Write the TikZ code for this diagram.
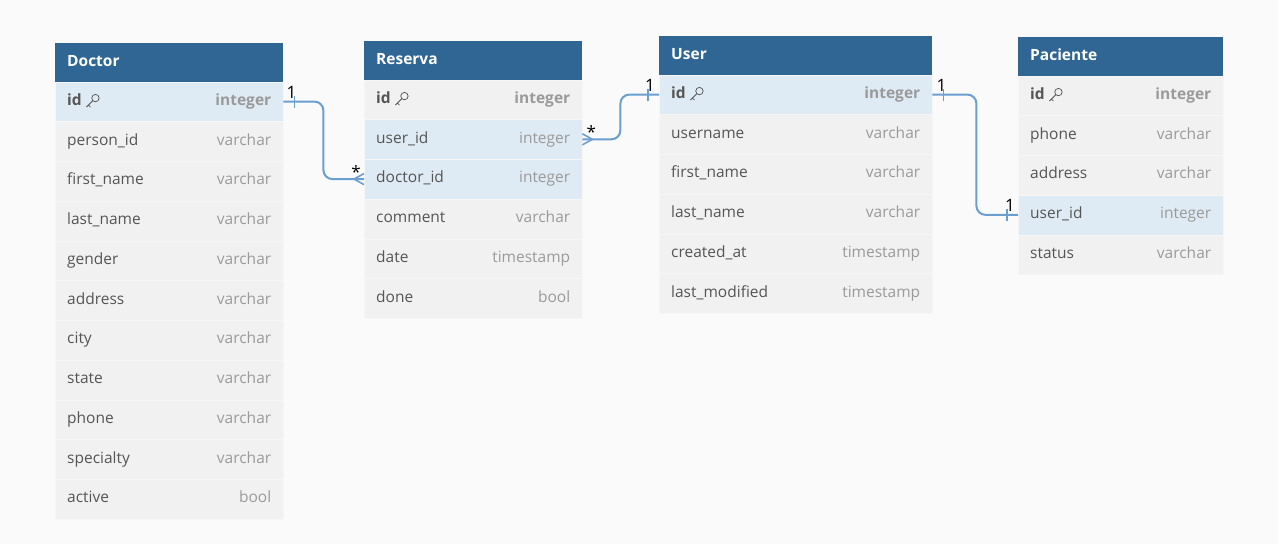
\documentclass[tikz,border=0pt]{standalone}
\usepackage{fontspec}
\setmainfont{Open Sans}
\usetikzlibrary{calc}
\definecolor{bg}{HTML}{FAFAFA}
\definecolor{hdr}{HTML}{2F6694}
\definecolor{hlrow}{HTML}{DFEBF4}
\definecolor{nmrow}{HTML}{F1F1F1}
\definecolor{sepc}{HTML}{F6F6F6}
\definecolor{fieldc}{HTML}{555555}
\definecolor{typec}{HTML}{9A9A9A}
\definecolor{connc}{HTML}{6A9FD0}
\tikzset{
  headbox/.style={fill=hdr,draw=none,minimum height=38.5,inner sep=0},
  headtxt/.style={text=white,font=\fontsize{15.5}{18}\selectfont\bfseries,inner sep=0,text height=11,text depth=3.5},
  rowbox/.style={draw=sepc,line width=0.4,minimum height=39.75,inner sep=0},
  hl/.style={fill=hlrow},
  nm/.style={fill=nmrow},
  fieldtxt/.style={text=fieldc,font=\fontsize{15.5}{18}\selectfont,inner sep=0,text height=11,text depth=3.5},
  typetxt/.style={text=typec,font=\fontsize{15.5}{18}\selectfont,inner sep=0,text height=11,text depth=3.5},
  keyst/.style={draw=fieldc,line width=0.75},
  conn/.style={draw=connc,line width=2,rounded corners=9},
  connmark/.style={draw=connc,line width=1.6},
  cardl/.style={text=black,font=\fontsize{17}{19}\selectfont,inner sep=0}
}
\newcommand\erhead[5]{%
  \node[headbox,minimum width=#4,anchor=north west] (#1) at (#2,#3) {};
  \node[headtxt,anchor=west] (#1-title) at ([xshift=12]#1.west) {#5};}
\newcommand\errow[7]{%
  \node[rowbox,#5,minimum width=#4,anchor=north west] (#1) at (#2,#3) {};
  \node[fieldtxt,anchor=west] (#1-f) at ([xshift=12]#1.west) {#6};
  \node[typetxt,anchor=east] (#1-t) at ([xshift=-12]#1.east) {#7};}
\newcommand\erkey[1]{%
  \coordinate (#1-kc) at ([xshift=13.5,yshift=3.5]#1-f.east);
  \draw[keyst] (#1-kc) circle[radius=3.7];
  \draw[keyst] ([xshift=-2.6,yshift=-2.6]#1-kc) -- ([xshift=-9,yshift=-9]#1-kc)
     ([xshift=-7,yshift=-7]#1-kc) -- ([xshift=-5,yshift=-9]#1-kc);}
\begin{document}
\begin{tikzpicture}[x=1pt,y=-1pt]
\useasboundingbox (0,0) rectangle (1278,544);
\fill[bg] (0,0) rectangle (1278,544);
% Doctor
\erhead{doctor}{55}{43}{228}{Doctor}
\errow{doctor-id}{55}{81.5}{228}{hl}{\bfseries id}{\bfseries integer}
\erkey{doctor-id}
\foreach \f/\t [count=\i] in {person\_id/varchar,first\_name/varchar,last\_name/varchar,gender/varchar,address/varchar,city/varchar,state/varchar,phone/varchar,specialty/varchar,active/bool}{
  \errow{doctor-r\i}{55}{81.5+39.75*\i}{228}{nm}{\f}{\t}
}
% Reserva
\erhead{reserva}{364}{41}{218}{Reserva}
\errow{reserva-id}{364}{79.5}{218}{nm}{\bfseries id}{\bfseries integer}
\erkey{reserva-id}
\errow{reserva-user_id}{364}{119.25}{218}{hl}{user\_id}{integer}
\errow{reserva-doctor_id}{364}{159}{218}{hl}{doctor\_id}{integer}
\foreach \f/\t [count=\i] in {comment/varchar,date/timestamp,done/bool}{
  \errow{reserva-r\i}{364}{159+39.75*\i}{218}{nm}{\f}{\t}
}
% User
\erhead{user}{659}{36}{273}{User}
\errow{user-id}{659}{74.5}{273}{hl}{\bfseries id}{\bfseries integer}
\erkey{user-id}
\foreach \f/\t [count=\i] in {username/varchar,first\_name/varchar,last\_name/varchar,created\_at/timestamp,last\_modified/timestamp}{
  \errow{user-r\i}{659}{74.5+39.75*\i}{273}{nm}{\f}{\t}
}
% Paciente
\erhead{paciente}{1018}{37}{205}{Paciente}
\errow{paciente-id}{1018}{75.5}{205}{nm}{\bfseries id}{\bfseries integer}
\erkey{paciente-id}
\errow{paciente-phone}{1018}{115.25}{205}{nm}{phone}{varchar}
\errow{paciente-address}{1018}{155}{205}{nm}{address}{varchar}
\errow{paciente-user_id}{1018}{194.75}{205}{hl}{user\_id}{integer}
\errow{paciente-status}{1018}{234.5}{205}{nm}{status}{varchar}
% Connectors
\draw[conn] (doctor-id.east) -- ([xshift=40]doctor-id.east) |- (reserva-doctor_id.west);
\draw[connmark] ([xshift=11,yshift=-6]doctor-id.east) -- ([xshift=11,yshift=6]doctor-id.east);
\draw[connmark] ([xshift=-10]reserva-doctor_id.west) -- ([yshift=5.5]reserva-doctor_id.west)
  ([xshift=-10]reserva-doctor_id.west) -- ([yshift=-5.5]reserva-doctor_id.west);
\node[cardl] (c1a) at ([xshift=8,yshift=9]doctor-id.east) {1};
\node[cardl] (c1b) at ([xshift=-8,yshift=7]reserva-doctor_id.west) {*};

\draw[conn] (reserva-user_id.east) -- ([xshift=38]reserva-user_id.east) |- (user-id.west);
\draw[connmark] ([xshift=10]reserva-user_id.east) -- ([yshift=5.5]reserva-user_id.east)
  ([xshift=10]reserva-user_id.east) -- ([yshift=-5.5]reserva-user_id.east);
\draw[connmark] ([xshift=-11,yshift=-6]user-id.west) -- ([xshift=-11,yshift=6]user-id.west);
\node[cardl] (c2a) at ([xshift=9,yshift=7]reserva-user_id.east) {*};
\node[cardl] (c2b) at ([xshift=-9,yshift=9]user-id.west) {1};

\draw[conn] (user-id.east) -- ([xshift=44]user-id.east) |- (paciente-user_id.west);
\draw[connmark] ([xshift=11,yshift=-6]user-id.east) -- ([xshift=11,yshift=6]user-id.east);
\draw[connmark] ([xshift=-11,yshift=-6]paciente-user_id.west) -- ([xshift=-11,yshift=6]paciente-user_id.west);
\node[cardl] (c3a) at ([xshift=9,yshift=9]user-id.east) {1};
\node[cardl] (c3b) at ([xshift=-8,yshift=9]paciente-user_id.west) {1};
\end{tikzpicture}
\end{document}
